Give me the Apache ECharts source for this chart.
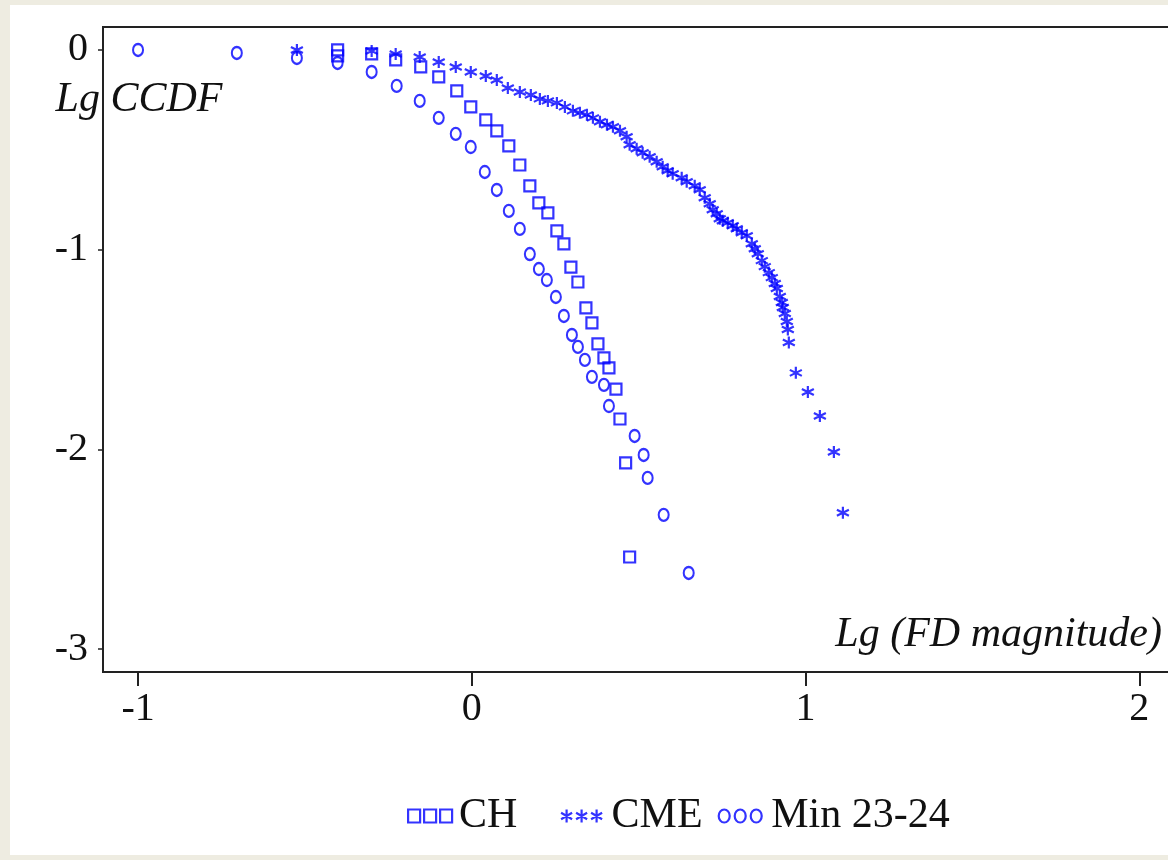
<!DOCTYPE html>
<html>
<head>
<meta charset="utf-8">
<title>Lg CCDF</title>
<script src="https://cdn.jsdelivr.net/npm/echarts@6.0.0/dist/echarts.min.js"></script>
<style>
  html, body { margin: 0; padding: 0; background: #eeece1; }
  #chart { width: 1168px; height: 860px; }
</style>
</head>
<body>
<div id="chart"></div>
<script>
// tick values
const xTicks = [-1, 0, 1, 2]
const yTicks = [0, -1, -2, -3]

// CH (squares)
const chX = [-0.402, -0.402, -0.300, -0.228, -0.153, -0.099, -0.045, -0.003, 0.042, 0.075, 0.111, 0.144, 0.174, 0.201,
  0.228, 0.255, 0.276, 0.297, 0.318, 0.342, 0.360, 0.378, 0.396, 0.411, 0.432, 0.444, 0.461, 0.473]
const chY = [0, -0.03, -0.02, -0.05, -0.085, -0.135, -0.205, -0.285, -0.35, -0.405, -0.48, -0.576, -0.681, -0.766,
  -0.816, -0.906, -0.971, -1.087, -1.162, -1.292, -1.367, -1.472, -1.542, -1.592, -1.698, -1.848, -2.068, -2.539]

// CME (asterisks)
const cmeX = [-0.524, -0.300, -0.228, -0.156, -0.099, -0.048, -0.003, 0.042, 0.075, 0.108, 0.144, 0.177, 0.204, 0.228,
  0.255, 0.279, 0.303, 0.324, 0.345, 0.363, 0.384, 0.405, 0.423, 0.444, 0.464, 0.473, 0.494, 0.512, 0.533, 0.554,
  0.572, 0.587, 0.602, 0.629, 0.644, 0.668, 0.683, 0.698, 0.713, 0.722, 0.734, 0.743, 0.752, 0.767, 0.782, 0.794,
  0.809, 0.824, 0.839, 0.848, 0.857, 0.869, 0.878, 0.890, 0.899, 0.908, 0.914, 0.923, 0.929, 0.932, 0.938, 0.944,
  0.947, 0.950, 0.971, 1.007, 1.043, 1.085, 1.112]
const cmeY = [0, -0.005, -0.02, -0.035, -0.06, -0.085, -0.11, -0.13, -0.15, -0.19, -0.21, -0.225, -0.245, -0.255,
  -0.265, -0.285, -0.305, -0.315, -0.325, -0.34, -0.36, -0.375, -0.385, -0.405, -0.435, -0.475, -0.495, -0.515, -0.535, -0.56,
  -0.585, -0.605, -0.62, -0.64, -0.66, -0.68, -0.70, -0.74, -0.77, -0.80, -0.82, -0.845, -0.855, -0.865, -0.88, -0.895,
  -0.915, -0.93, -0.97, -0.995, -1.02, -1.055, -1.085, -1.115, -1.14, -1.17, -1.195, -1.235, -1.265, -1.29, -1.32, -1.36,
  -1.40, -1.465, -1.617, -1.713, -1.833, -2.013, -2.318]

// Min 23-24 (circles)
const minX = [-1.0, -0.704, -0.524, -0.402, -0.300, -0.225, -0.156, -0.099, -0.048, -0.003, 0.039, 0.075, 0.111, 0.144,
  0.174, 0.201, 0.225, 0.252, 0.276, 0.300, 0.318, 0.339, 0.360, 0.396, 0.411, 0.488, 0.515, 0.527, 0.575, 0.650]
const minY = [0, -0.015, -0.04, -0.065, -0.11, -0.18, -0.255, -0.34, -0.42, -0.486, -0.611, -0.701, -0.806, -0.896,
  -1.022, -1.097, -1.152, -1.237, -1.332, -1.427, -1.487, -1.552, -1.637, -1.677, -1.783, -1.933, -2.028, -2.143, -2.328, -2.619]

const BLUE = "#0000ff"
const INK = "#111111"
const SERIF = "'Liberation Serif', 'DejaVu Serif', serif"

const starPath = "path://M5,0V10M0.7,2.5L9.3,7.5M0.7,7.5L9.3,2.5"
const legendSquares = "path://M0,0h12v13h-12zM16,0h12v13h-12zM32,0h12v13h-12z"
const legendStars = "path://M6,0V13M0.5,3.2L11.5,9.8M0.5,9.8L11.5,3.2M21,0V13M15.5,3.2L26.5,9.8M15.5,9.8L26.5,3.2M36,0V13M30.5,3.2L41.5,9.8M30.5,9.8L41.5,3.2"
const legendCircles = "path://M0,6.5a5.5,6.5 0 1,0 11,0a5.5,6.5 0 1,0 -11,0zM16,6.5a5.5,6.5 0 1,0 11,0a5.5,6.5 0 1,0 -11,0zM32,6.5a5.5,6.5 0 1,0 11,0a5.5,6.5 0 1,0 -11,0z"

function zip(xs, ys) {
  return xs.map((x, i) => [x, ys[i]])
}

const hollow = {color: "transparent", borderColor: BLUE, borderWidth: 2.2}

const legendBase = {
  top: 795,
  padding: 0,
  itemWidth: 44,
  itemHeight: 13,
  itemGap: 15,
  textStyle: {fontFamily: SERIF, fontSize: 42, color: INK},
}

const chart = echarts.init(document.getElementById("chart"))

chart.setOption({
  backgroundColor: "#eeece1",
  animation: false,
  graphic: [
    {type: "rect", z: -100, shape: {x: 10, y: 5, width: 1158, height: 850}, style: {fill: "#ffffff"}},
    {
      type: "text",
      x: 1162,
      y: 635,
      z: 10,
      style: {
        text: "Lg (FD magnitude)",
        font: "italic 42px 'Liberation Serif', serif",
        fill: INK,
        align: "right",
        verticalAlign: "middle",
      },
    },
  ],
  grid: {
    left: 103,
    top: 27,
    width: 1103,
    height: 645,
    outerBoundsMode: "none",
    containLabel: false,
    show: true,
    backgroundColor: "#ffffff",
    borderColor: "#222222",
    borderWidth: 2,
  },
  xAxis: {
    type: "value",
    min: -1.105,
    max: 2.2,
    axisLine: {show: true, onZero: false, lineStyle: {color: "#222222", width: 2}},
    axisTick: {show: true, customValues: xTicks, length: 14, lineStyle: {color: "#222222", width: 2}},
    axisLabel: {customValues: xTicks, margin: 17, fontFamily: SERIF, fontSize: 40, color: INK},
    splitLine: {show: false},
  },
  yAxis: {
    type: "value",
    min: -3.115,
    max: 0.115,
    name: "Lg CCDF",
    nameLocation: "end",
    nameGap: -73,
    nameTextStyle: {
      fontFamily: SERIF,
      fontStyle: "italic",
      fontSize: 42,
      color: INK,
      align: "center",
      verticalAlign: "middle",
      padding: [0, 0, 0, 72],
    },
    axisLine: {show: true, onZero: false, lineStyle: {color: "#222222", width: 2}},
    axisTick: {show: true, customValues: yTicks, length: 5, lineStyle: {color: "#222222", width: 1.5}},
    axisLabel: {customValues: yTicks, margin: 15, fontFamily: SERIF, fontSize: 40, color: INK},
    splitLine: {show: false},
  },
  legend: [
    Object.assign({}, legendBase, {
      left: 407,
      data: [{name: "CH", icon: legendSquares, itemStyle: hollow, textStyle: {padding: [0, 0, 0, 2]}}],
    }),
    Object.assign({}, legendBase, {
      left: 560,
      data: [
        {name: "CME", icon: legendStars, itemStyle: hollow, textStyle: {padding: [0, 0, 0, 3]}},
        {name: "Min 23-24", icon: legendCircles, itemStyle: hollow, textStyle: {padding: [0, 0, 0, 4]}},
      ],
    }),
  ],
  series: [
    {
      name: "CH",
      type: "scatter",
      symbol: "rect",
      symbolSize: 11,
      itemStyle: hollow,
      data: zip(chX, chY),
    },
    {
      name: "CME",
      type: "scatter",
      symbol: starPath,
      symbolSize: 12,
      itemStyle: hollow,
      data: zip(cmeX, cmeY),
    },
    {
      name: "Min 23-24",
      type: "scatter",
      symbol: "circle",
      symbolSize: [10, 12],
      itemStyle: hollow,
      data: zip(minX, minY),
    },
  ],
})
</script>
</body>
</html>
